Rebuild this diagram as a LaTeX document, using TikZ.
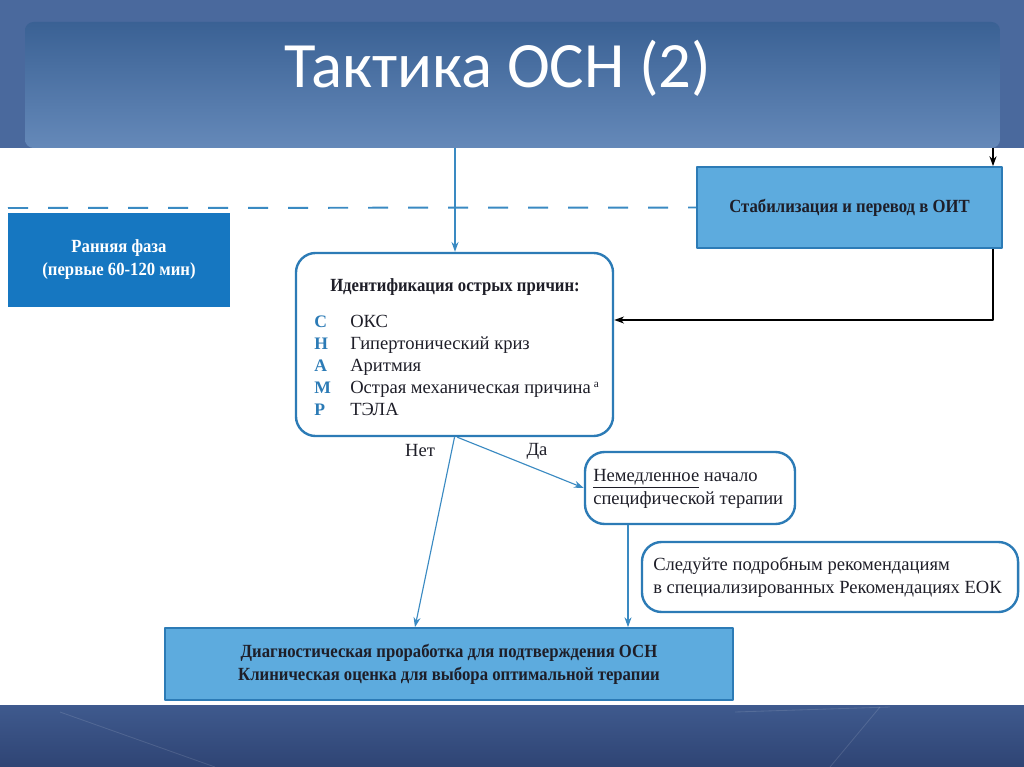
\documentclass[tikz,border=0pt]{standalone}
\usepackage{fontspec}
\setmainfont{Liberation Serif}
\newfontfamily\titlefont{Carlito}
\newfontfamily\condserif[FakeStretch=0.9]{Liberation Serif}
\usetikzlibrary{arrows.meta}
\definecolor{bandblue}{HTML}{4A699D}
\definecolor{headtop}{HTML}{3A6194}
\definecolor{headbot}{HTML}{6589B9}
\definecolor{foottop}{HTML}{3F5A8E}
\definecolor{footbot}{HTML}{2F4474}
\definecolor{linkblue}{HTML}{3A8AC2}
\definecolor{frameblue}{HTML}{2C7BB6}
\definecolor{phaseblue}{HTML}{1677C1}
\definecolor{boxblue}{HTML}{5DABDE}
\definecolor{inkdark}{HTML}{1E1E28}

\begin{document}
\begin{tikzpicture}[x=0.025cm,y=-0.025cm,line join=round,
  every node/.style={inner sep=0pt,text=inkdark,font=\fontsize{13.2}{16.4}\selectfont},
  boldtext/.style={font=\condserif\fontsize{13.2}{16.4}\selectfont\bfseries},
  flowarrow/.style={draw=linkblue,line width=0.8pt,-{Stealth[length=7pt,width=5pt]}},
  blackarrow/.style={draw=black,line width=1.1pt,-{Stealth[length=7pt,width=5pt]}},
  roundbox/.style={draw=frameblue,line width=1.7pt,rounded corners=14pt,fill=white},
  flatbox/.style={draw=frameblue,line width=1.2pt,fill=boxblue},
  letter/.style={anchor=base west,text=frameblue,font=\fontsize{12.5}{15}\selectfont\bfseries},
  item/.style={anchor=base west}]
  \useasboundingbox (0,0) rectangle (1024,767);
  % фон и заголовок
  \fill[white] (0,0) rectangle (1024,767);
  \fill[bandblue] (0,0) rectangle (1024,148);
  \shade[top color=headtop,bottom color=headbot,rounded corners=6pt]
    (25,148) -- (25,22) -- (1000,22) -- (1000,148) -- cycle;
  \node[text=white,font=\titlefont\fontsize{46}{50}\selectfont] (title) at (498,68) {Тактика ОСН (2)};
  \shade[top color=foottop,bottom color=footbot] (0,705) rectangle (1024,767);
  \draw[white,opacity=0.12,line width=0.6pt] (60,712) -- (215,767);
  \draw[white,opacity=0.12,line width=0.6pt] (735,712) -- (890,707);
  \draw[white,opacity=0.12,line width=0.6pt] (880,707) -- (830,767);
  % блоки
  \node[fill=phaseblue,minimum width=5.55cm,minimum height=2.35cm,align=center,
    boldtext,text=white] (phase) at (119,260)
    {Ранняя фаза\\(первые 60-120 мин)};
  \node[flatbox,minimum width=7.625cm,minimum height=2.025cm,boldtext] (stab) at (849.5,207.5)
    {Стабилизация и перевод в ОИТ};
  \node[roundbox,minimum width=7.925cm,minimum height=4.575cm] (ident) at (454.5,344.5) {};
  \node[boldtext] (identhead) at (455,287)
    {Идентификация острых причин:};
  \foreach \y/\lt/\txt in {327/С/ОКС, 349/Н/Гипертонический криз, 371/А/Аритмия,
    393/М/{Острая механическая причина\,\raisebox{0.6ex}{\fontsize{8}{9}\selectfont а}}, 415/Р/ТЭЛА} {
    \node[letter] (lt\lt) at (314,\y) {\lt};
    \node[item] (it\lt) at (350,\y) {\txt};
  }
  \node[roundbox,minimum width=5.25cm,minimum height=1.8cm] (start) at (690,488) {};
  \node[anchor=west,align=left] (starttext) at (593,489)
    {\underline{Немедленное} начало\\специфической терапии};
  \node[roundbox,minimum width=9.4cm,minimum height=1.75cm] (follow) at (830,577) {};
  \node[anchor=west,align=left] (followtext) at (653,577)
    {Следуйте подробным рекомендациям\\в специализированных Рекомендациях ЕОК};
  \node[flatbox,minimum width=14.2cm,minimum height=1.8cm,align=center,boldtext] (diag) at (449,664)
    {Диагностическая проработка для подтверждения ОСН\\Клиническая оценка для выбора оптимальной терапии};
  % связи
  \draw[draw=linkblue,line width=1.4pt,dash pattern=on 0.5cm off 0.5cm] (8,208) -- (stab.west);
  \coordinate (topin) at (455,148);
  \coordinate (stabin) at (993,148);
  \coordinate (netx) at (415,0);
  \coordinate (dax) at (628,0);
  \draw[flowarrow] (topin) -- (topin |- ident.north);
  \draw[blackarrow] (stabin) -- (stabin |- stab.north);
  \draw[blackarrow] (stabin |- stab.south) -- (stabin |- 0,320) -- (ident.east |- 0,320);
  \draw[flowarrow] (ident.south) -- (netx |- diag.north);
  \draw[flowarrow] ([xshift=2pt]ident.south) -- (start.west);
  \draw[flowarrow] (dax |- start.south) -- (dax |- diag.north);
  \node (net) at (420,451) {Нет};
  \node (da) at (537,451) {Да};
\end{tikzpicture}
\end{document}
